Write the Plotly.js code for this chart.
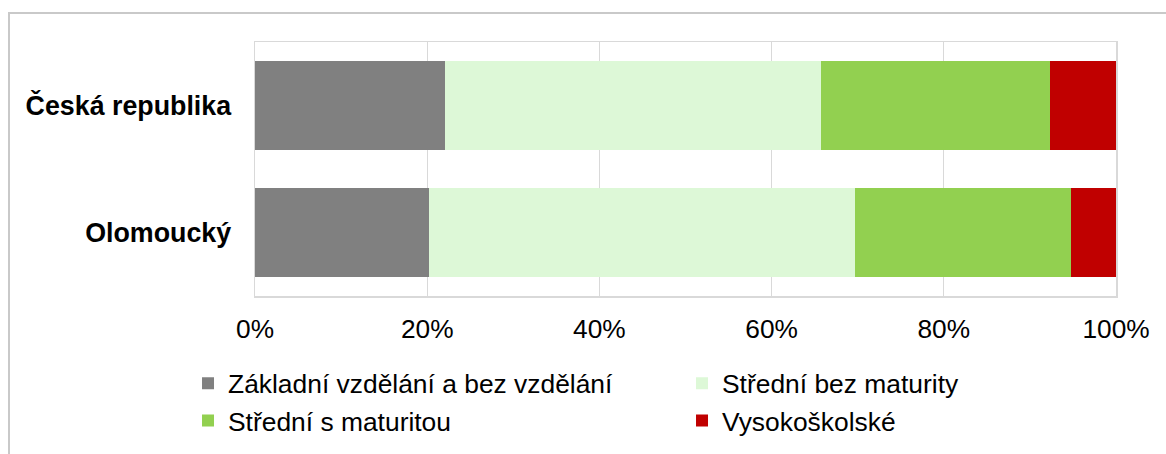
<!DOCTYPE html>
<html>
<head>
<meta charset="utf-8">
<script src="https://cdn.plot.ly/plotly-3.0.1.min.js"></script>
<style>
  html, body { margin: 0; padding: 0; background: #fff; }
  #wrap { position: relative; width: 1166px; height: 454px; overflow: hidden; }
  #frame { position: absolute; left: 8px; top: 12px; width: 1300px; height: 600px;
           border-left: 2px solid #c9c9c9; border-top: 2px solid #c9c9c9; }
  #chart { position: absolute; left: 0; top: 0; width: 1166px; height: 454px; }
</style>
</head>
<body>
<div id="wrap">
  <div id="frame"></div>
  <div id="chart"></div>
</div>
<script>
const categories = ['Česká republika', 'Olomoucký'];
const seriesNames = ['Základní vzdělání a bez vzdělání', 'Střední bez maturity', 'Střední s maturitou', 'Vysokoškolské'];
const zakladni = [22.1, 20.2];
const stredniBez = [43.6, 49.5];
const stredniS = [26.6, 25.1];
const vysokoskolske = [7.7, 5.2];
const colors = ['#808080', '#DDF8D7', '#92D050', '#C00000'];
const xTickVals = [0, 20, 40, 60, 80, 100];

const seriesValues = [zakladni, stredniBez, stredniS, vysokoskolske];
const traces = seriesValues.map((vals, i) => ({
  type: 'bar',
  orientation: 'h',
  name: seriesNames[i],
  y: categories,
  x: vals,
  marker: { color: colors[i], line: { width: 0 } },
  legendwidth: (i % 2 === 0) ? 449 : 260,
  hoverinfo: 'x+name'
}));

const font = { family: 'Arial, "Liberation Sans", sans-serif', color: '#000000' };

const layout = {
  width: 1166,
  height: 454,
  barmode: 'stack',
  bargap: 0.307,
  paper_bgcolor: 'rgba(0,0,0,0)',
  plot_bgcolor: '#ffffff',
  margin: { l: 255, r: 50, t: 42, b: 158, pad: 0, autoexpand: false },
  font: Object.assign({ size: 26.5 }, font),
  xaxis: {
    range: [0, 100],
    tickvals: xTickVals,
    ticktext: xTickVals.map(v => v + '%'),
    showgrid: true,
    gridcolor: '#D9D9D9',
    gridwidth: 1,
    zeroline: false,
    showline: true,
    linecolor: '#D9D9D9',
    linewidth: 1.5,
    mirror: true,
    ticks: '',
    ticklabelstandoff: 9,
    tickfont: Object.assign({ size: 26.3 }, font),
    fixedrange: true
  },
  yaxis: {
    type: 'category',
    autorange: 'reversed',
    showgrid: false,
    zeroline: false,
    showline: true,
    linecolor: '#D9D9D9',
    linewidth: 1.5,
    mirror: true,
    ticks: '',
    ticklabelstandoff: 17,
    tickfont: Object.assign({ size: 26.8, weight: 'bold' }, font),
    fixedrange: true
  },
  showlegend: true,
  legend: {
    orientation: 'h',
    traceorder: 'normal',
    x: -0.0778,
    xanchor: 'left',
    y: -0.25,
    yanchor: 'top',
    entrywidthmode: 'pixels',
    font: Object.assign({ size: 26.4 }, font),
    bgcolor: 'rgba(0,0,0,0)',
    borderwidth: 0
  }
};

Plotly.newPlot('chart', traces, layout, { displayModeBar: false, staticPlot: true });
</script>
</body>
</html>
